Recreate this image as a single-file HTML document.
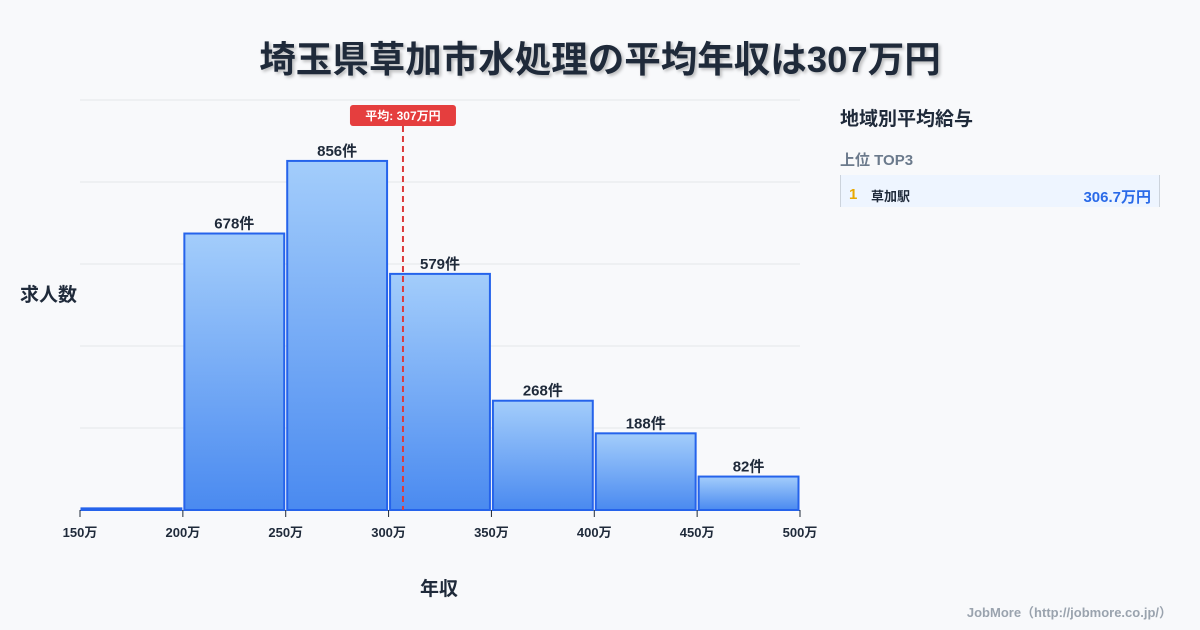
<!DOCTYPE html>
<html><head><meta charset="utf-8"><style>
body{margin:0;width:1200px;height:630px;background:#f8f9fb;font-family:"Liberation Sans","Noto Sans CJK JP",sans-serif;overflow:hidden;position:relative}
.t{position:absolute}
</style></head><body>
<div class="t" style="left:0;width:1200px;top:30px;text-align:center;font-size:36.5px;font-weight:bold;color:#1f2a3a;text-shadow:2px 2px 3px rgba(0,0,0,0.25)">埼玉県草加市水処理の平均年収は307万円</div>
<svg id="c" width="1200" height="630" style="position:absolute;left:0;top:0">
<defs><linearGradient id="g" x1="0" y1="0" x2="0" y2="1"><stop offset="0" stop-color="#a3cdfb"/><stop offset="1" stop-color="#4a8af0"/></linearGradient></defs>
</svg>
<div class="t" style="left:20px;top:280px;font-size:19px;font-weight:bold;color:#1f2a3a">求人数</div>
<div class="t" style="left:420px;top:574px;font-size:19px;font-weight:bold;color:#1f2a3a">年収</div>
<div class="t" style="left:840px;top:104px;font-size:19px;font-weight:bold;color:#1f2a3a">地域別平均給与</div>
<div class="t" style="left:840px;top:149px;font-size:15px;font-weight:bold;color:#6b7a8c">上位 TOP3</div>
<div class="t" style="left:840px;top:175px;width:318px;height:32px;background:#eef5ff;border-left:1px solid #ccd3dc;border-right:1px solid #ccd3dc">
<span style="position:absolute;left:8px;top:11px;font-size:15px;font-weight:bold;color:#e8a800">1</span>
<span style="position:absolute;left:30px;top:11px;font-size:13px;font-weight:bold;color:#1f2a3a">草加駅</span>
<span style="position:absolute;right:8px;top:11px;font-size:15px;font-weight:bold;color:#2a6ae8">306.7万円</span></div>
<div class="t" style="right:28px;top:602px;font-size:13px;font-weight:bold;color:#9aa3ae">JobMore（http://jobmore.co.jp/）</div>
<script>
const bins=[150,200,250,300,350,400,450];
const counts=[4,678,856,579,268,188,82];
const xTicks=[150,200,250,300,350,400,450,500];
const yTicks=[0,200,400,600,800,1000];
const mean=307;
const svg=document.getElementById('c');
const NS='http://www.w3.org/2000/svg';
const X=v=>80+(v-150)/350*720, Y=v=>510-v*0.4078;
function mk(t,a){const e=document.createElementNS(NS,t);for(const k in a)e.setAttribute(k,a[k]);svg.appendChild(e);return e;}
yTicks.forEach(v=>{const l=mk('line',{x1:80,x2:800,y1:510-v*0.41,y2:510-v*0.41,stroke:'#e3e6ea'});

});
counts.forEach((c,i)=>{const x0=X(bins[i]),x1=X(bins[i]+50);
const r=mk('rect',{x:x0+1.5,y:Y(c),width:x1-x0-3,height:510-Y(c),fill:'url(#g)',stroke:'#2563eb','stroke-width':2});


if(c>20){const t=mk('text',{x:(x0+x1)/2,y:Y(c)-5,'text-anchor':'middle','font-size':15,'font-weight':'bold',fill:'#1f2a3a'});t.textContent=c+'件';

}});
xTicks.forEach(v=>{const l=mk('line',{x1:X(v),x2:X(v),y1:510,y2:517,stroke:'#1f2a3a'});


const t=mk('text',{x:X(v),y:537,'text-anchor':'middle','font-size':13,'font-weight':'bold',fill:'#1f2a3a'});t.textContent=v+'万';

});
const mx=X(mean);
const ml=mk('line',{x1:mx,x2:mx,y1:126,y2:510,stroke:'#dc3b3b','stroke-width':2,'stroke-dasharray':'6,4'});


const mr=mk('rect',{x:mx-53,y:105,width:106,height:21,rx:3,fill:'#e53e3e'});


const mt=mk('text',{x:mx,y:120,'text-anchor':'middle','font-size':12,'font-weight':'bold',fill:'#fff'});mt.textContent='平均: '+mean+'万円';


</script>
</body></html>
